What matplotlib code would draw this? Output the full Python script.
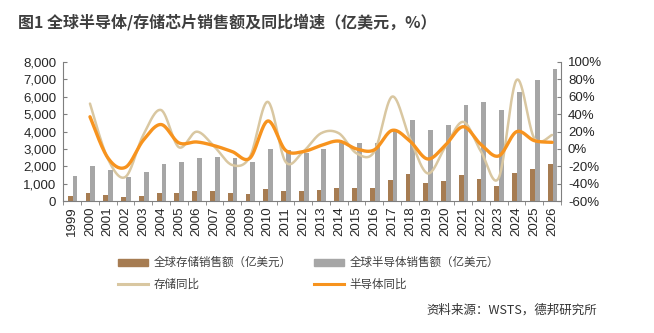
import numpy as np
import matplotlib
matplotlib.use("Agg")
import matplotlib.pyplot as plt
from matplotlib.patches import Patch
from matplotlib.lines import Line2D
from matplotlib.ticker import FuncFormatter, MultipleLocator

plt.rcParams['font.family'] = ['Liberation Sans', 'Noto Sans CJK SC', 'DejaVu Sans']

# ---- data -------------------------------------------------------------
years = [str(y) for y in range(1999, 2027)]

# global memory sales, 100M USD
memory_sales = [305, 496, 363, 248, 305, 477, 496, 572, 572, 458, 439, 687, 611, 572,
                668, 782, 763, 763, 1221, 1565, 1069, 1164, 1527, 1279, 897, 1641, 1832, 2137]
# global semiconductor sales, 100M USD
semi_sales = [1470, 2023, 1800, 1393, 1660, 2118, 2252, 2462, 2538, 2462, 2252, 2977, 2950, 2786,
              3015, 3340, 3340, 3360, 4100, 4637, 4084, 4370, 5515, 5687, 5229, 6260, 6947, 7557]

# YoY growth (%), from 2000 onward
yoy_years = years[1:]
memory_yoy = [52, -11, -32, 16, 44.6, 2, 19.8, 2.6, -18.4, -8.9, 54, -14.6, -3, 18,
              18, -5, -3, 60, 12, -28, 2.6, 31, -3, -33, 79, 12, 16]
semi_yoy = [36.9, -10, -21, 10, 28, 7, 8, 3.7, -3, -10.5, 32, -1.5, -3, 4,
            9, 0, -1, 21.3, 9, -11.5, 4.5, 25.5, 5, -8, 19.8, 9.5, 7.6]

# ---- colours ----------------------------------------------------------
C_MEM = '#A67C52'
C_SEMI = '#A6A6A6'
C_MEM_LINE = '#D9C7A1'
C_SEMI_LINE = '#F7931E'
C_AXIS = '#7F7F7F'
C_TEXT = '#262626'


def catmull_rom(x, y, n=30):
    pts = np.column_stack([x, y]).astype(float)
    P = np.vstack([pts[0], pts, pts[-1]])
    t = np.linspace(0, 1, n, endpoint=False)[:, None]
    segs = []
    for i in range(1, len(P) - 2):
        p0, p1, p2, p3 = P[i - 1], P[i], P[i + 1], P[i + 2]
        segs.append(0.5 * (2 * p1 + (-p0 + p2) * t
                           + (2 * p0 - 5 * p1 + 4 * p2 - p3) * t ** 2
                           + (-p0 + 3 * p1 - 3 * p2 + p3) * t ** 3))
    segs.append(P[-2][None])
    s = np.vstack(segs)
    return s[:, 0], s[:, 1]


fig = plt.figure(figsize=(6.54, 3.33), dpi=100)
ax = fig.add_axes([0.0968, 0.3955, 0.7610, 0.4192])
ax2 = ax.twinx()

x = np.arange(len(years))
w = 0.27
ax.bar(x - 0.11, memory_sales, width=w, color=C_MEM, zorder=2)
ax.bar(x + 0.16, semi_sales, width=w, color=C_SEMI, zorder=2)

xl = np.arange(1, len(years))
sx, sy = catmull_rom(xl, memory_yoy)
ax2.plot(sx, np.array(sy) / 100, color=C_MEM_LINE, lw=1.8, solid_capstyle='round', zorder=3)
sx, sy = catmull_rom(xl, semi_yoy)
ax2.plot(sx, np.array(sy) / 100, color=C_SEMI_LINE, lw=2.4, solid_capstyle='round', zorder=4)

ax.set_xlim(-0.5, len(years) - 0.5)
ax.set_ylim(0, 8000)
ax2.set_ylim(-0.6, 1.0)
ax.yaxis.set_major_locator(MultipleLocator(1000))
ax2.yaxis.set_major_locator(MultipleLocator(0.2))
ax.yaxis.set_major_formatter(FuncFormatter(lambda v, p: f'{v:,.0f}'))
ax2.yaxis.set_major_formatter(FuncFormatter(lambda v, p: f'{v * 100:.0f}%'))

ax.set_xticks(x)
ax.set_xticklabels(years, rotation=90)
ax.set_xticks(np.arange(-0.5, len(years), 1), minor=True)
ax.tick_params(axis='x', which='major', length=0, pad=4, labelsize=9.5, labelcolor=C_TEXT)
ax.tick_params(axis='x', which='minor', length=3, direction='out', color=C_AXIS)
ax.tick_params(axis='y', direction='in', length=3, color=C_AXIS, labelsize=9.5, labelcolor=C_TEXT, pad=5)
ax2.tick_params(axis='y', direction='in', length=3, color=C_AXIS, labelsize=9.5, labelcolor=C_TEXT, pad=5)

for a in (ax, ax2):
    a.spines['top'].set_visible(False)
    for s in ('left', 'right', 'bottom'):
        a.spines[s].set_color(C_AXIS)
        a.spines[s].set_linewidth(0.8)
ax.spines['right'].set_visible(False)
ax2.spines['left'].set_visible(False)
ax2.spines['bottom'].set_visible(False)

# title
fig.text(0.027, 0.934, '图1 全球半导体/存储芯片销售额及同比增速（亿美元，%）',
         fontsize=11.5, fontweight='bold', color='#3F3F3F', va='center', ha='left',
         family=['Noto Sans CJK SC', 'DejaVu Sans'])

# legend
handles = [Patch(color=C_MEM), Line2D([], [], color=C_MEM_LINE, lw=2.2),
           Patch(color=C_SEMI), Line2D([], [], color=C_SEMI_LINE, lw=2.2)]
labels = ['全球存储销售额（亿美元）', '存储同比', '全球半导体销售额（亿美元）', '半导体同比']
leg = fig.legend(handles, labels, ncol=2, loc='upper left', bbox_to_anchor=(0.165, 0.262),
                 frameon=False, handlelength=2.6, handleheight=0.55, handletextpad=0.5,
                 columnspacing=1.9, labelspacing=0.75,
                 prop={'family': ['Noto Sans CJK SC', 'DejaVu Sans'], 'size': 8.3})
for t in leg.get_texts():
    t.set_color('#404040')

fig.text(0.913, 0.069, '资料来源：WSTS，德邦研究所', fontsize=9, color='#333333',
         ha='right', va='center', family=['Noto Sans CJK SC', 'DejaVu Sans'])

fig.savefig('out.png', dpi=100)
